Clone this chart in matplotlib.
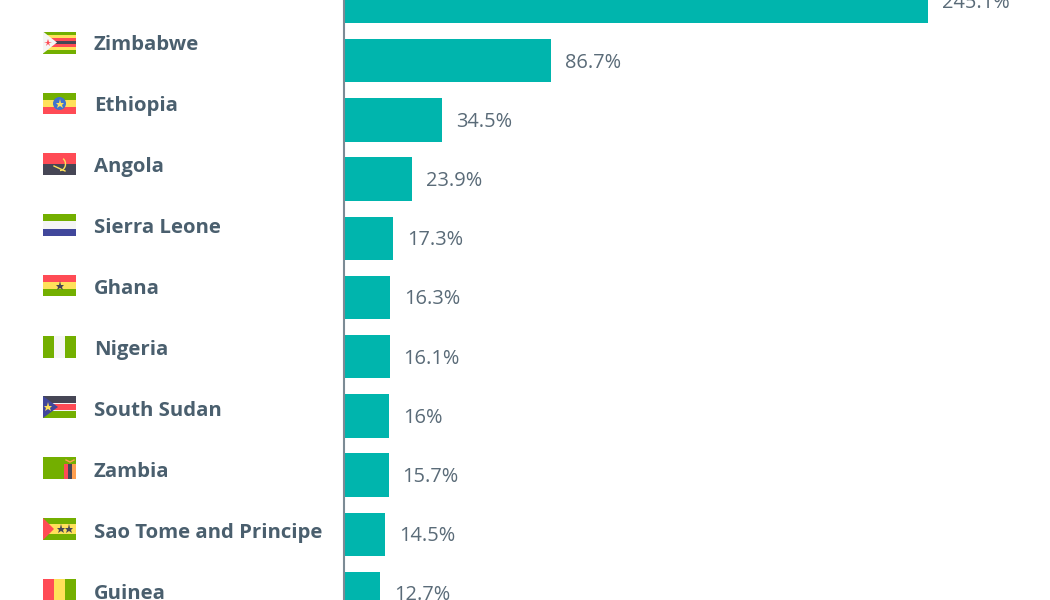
import numpy as np
import matplotlib.pyplot as plt
from matplotlib.patches import Polygon, Rectangle, Circle, Arc

### Данные
values = [245.1, 86.7, 34.5, 23.9, 17.3, 16.3, 16.1, 16, 15.7, 14.5, 12.7]
value_labels = ['245.1%', '86.7%', '34.5%', '23.9%', '17.3%', '16.3%', '16.1%', '16%', '15.7%', '14.5%', '12.7%']
countries = ['Zimbabwe', 'Ethiopia', 'Angola', 'Sierra Leone', 'Ghana', 'Nigeria',
             'South Sudan', 'Zambia', 'Sao Tome and Principe', 'Guinea']

GREEN = '#73af00'
YELLOW = '#ffe15a'
RED = '#ff4b55'
DARK = '#464655'
WHITE = '#f5f5f5'
BLUE = '#41479b'
ORANGE = '#ff9f50'

# the bars in the picture are not on one linear scale, so the axis is piecewise
scale_data = [0, 34.5, 86.7, 245.1, 300]
scale_px = [0, 98, 207, 584, 715]

def forward(x):
    return np.interp(x, scale_data, scale_px)

def inverse(p):
    return np.interp(p, scale_px, scale_data)

fig = plt.figure(figsize=(10.5, 6), dpi=100)
ax = fig.add_axes([344 / 1050, 0, 706 / 1050, 1])
ax.set_xscale('function', functions=(forward, inverse))
ax.set_xlim(0, float(inverse(706)))
ax.set_ylim((600 - 1.5) / 59.2, -1.5 / 59.2)

ax.barh(range(len(values)), values, height=0.735, color='#00b5ad')
for i, v in enumerate(values):
    ax.annotate(value_labels[i], (v, i), xytext=(10, -5), textcoords='offset points',
                va='baseline', ha='left', fontsize=14.4, color='#5a6b78',
                family='Open Sans')

for side in ['top', 'right', 'bottom']:
    ax.spines[side].set_visible(False)
ax.spines['left'].set_color('#7c8b95')
ax.spines['left'].set_linewidth(1.5)
ax.set_xticks([])
ax.set_yticks([])
ax.minorticks_off()

### Левая колонка: подписи и флаги, координаты в пикселях
pane = fig.add_axes([0, 0, 1, 1])
pane.set_xlim(0, 1050)
pane.set_ylim(600, 0)
pane.set_axis_off()
pane.patch.set_alpha(0)

FX, FW, FH = 43, 33, 22

def stripes(top, colors, fracs=None):
    n = len(colors)
    fracs = fracs or [1 / n] * n
    y = top
    for c, f in zip(colors, fracs):
        pane.add_patch(Rectangle((FX, y), FW, FH * f, color=c, lw=0))
        y += FH * f

def columns(top, colors, fracs=None):
    n = len(colors)
    fracs = fracs or [1 / n] * n
    x = FX
    for c, f in zip(colors, fracs):
        pane.add_patch(Rectangle((x, top), FW * f, FH, color=c, lw=0))
        x += FW * f

def triangle(top, width, color):
    pane.add_patch(Polygon([(FX, top), (FX + width, top + FH / 2), (FX, top + FH)], color=color, lw=0))

def star(x, y, color, size=6.5):
    pane.plot([x], [y], marker='*', ms=size, color=color, mew=0)

flag_tops = [31.5, 92.5, 153, 214, 274.5, 335.5, 396, 457, 518, 579]

t = flag_tops[0]
stripes(t, [GREEN, YELLOW, RED, DARK, RED, YELLOW, GREEN])
triangle(t, 14, WHITE)
star(FX + 5, t + 11, RED, 5.5)

t = flag_tops[1]
stripes(t, [GREEN, YELLOW, RED])
pane.add_patch(Circle((FX + FW / 2, t + 11), 6.5, color='#4173cd', lw=0))
star(FX + FW / 2, t + 11, YELLOW)

t = flag_tops[2]
stripes(t, [RED, DARK])
pane.add_patch(Arc((FX + 17, t + 11), 11, 13, theta1=-60, theta2=90, color=YELLOW, lw=1))
pane.plot([FX + 11, FX + 22], [t + 13, t + 18], color=YELLOW, lw=1)

t = flag_tops[3]
stripes(t, [GREEN, WHITE, BLUE])

t = flag_tops[4]
stripes(t, [RED, YELLOW, GREEN])
star(FX + FW / 2, t + 11, DARK)

t = flag_tops[5]
columns(t, [GREEN, WHITE, GREEN])

t = flag_tops[6]
stripes(t, [DARK, WHITE, RED, WHITE, GREEN], [0.3, 0.05, 0.3, 0.05, 0.3])
triangle(t, 15, BLUE)
star(FX + 5, t + 11, YELLOW)

t = flag_tops[7]
columns(t, [GREEN], [1])
pane.add_patch(Rectangle((FX + 21, t + 7), 4, 15, color=RED, lw=0))
pane.add_patch(Rectangle((FX + 25, t + 7), 4, 15, color=DARK, lw=0))
pane.add_patch(Rectangle((FX + 29, t + 7), 4, 15, color=ORANGE, lw=0))
pane.plot([FX + 23, FX + 27, FX + 31], [t + 3, t + 5, t + 3], color=ORANGE, lw=1)

t = flag_tops[8]
stripes(t, [GREEN, YELLOW, GREEN], [0.27, 0.46, 0.27])
triangle(t, 11, RED)
star(FX + 17.5, t + 11, DARK)
star(FX + 26, t + 11, DARK)

t = flag_tops[9]
columns(t, [RED, YELLOW, GREEN])

for i, name in enumerate(countries):
    pane.text(94, 50.5 + 60.9 * i, name, va='baseline', ha='left', fontsize=14.7,
              fontweight='bold', color='#4a5f6e', family='Open Sans')

fig.savefig('out.png', dpi=100)
